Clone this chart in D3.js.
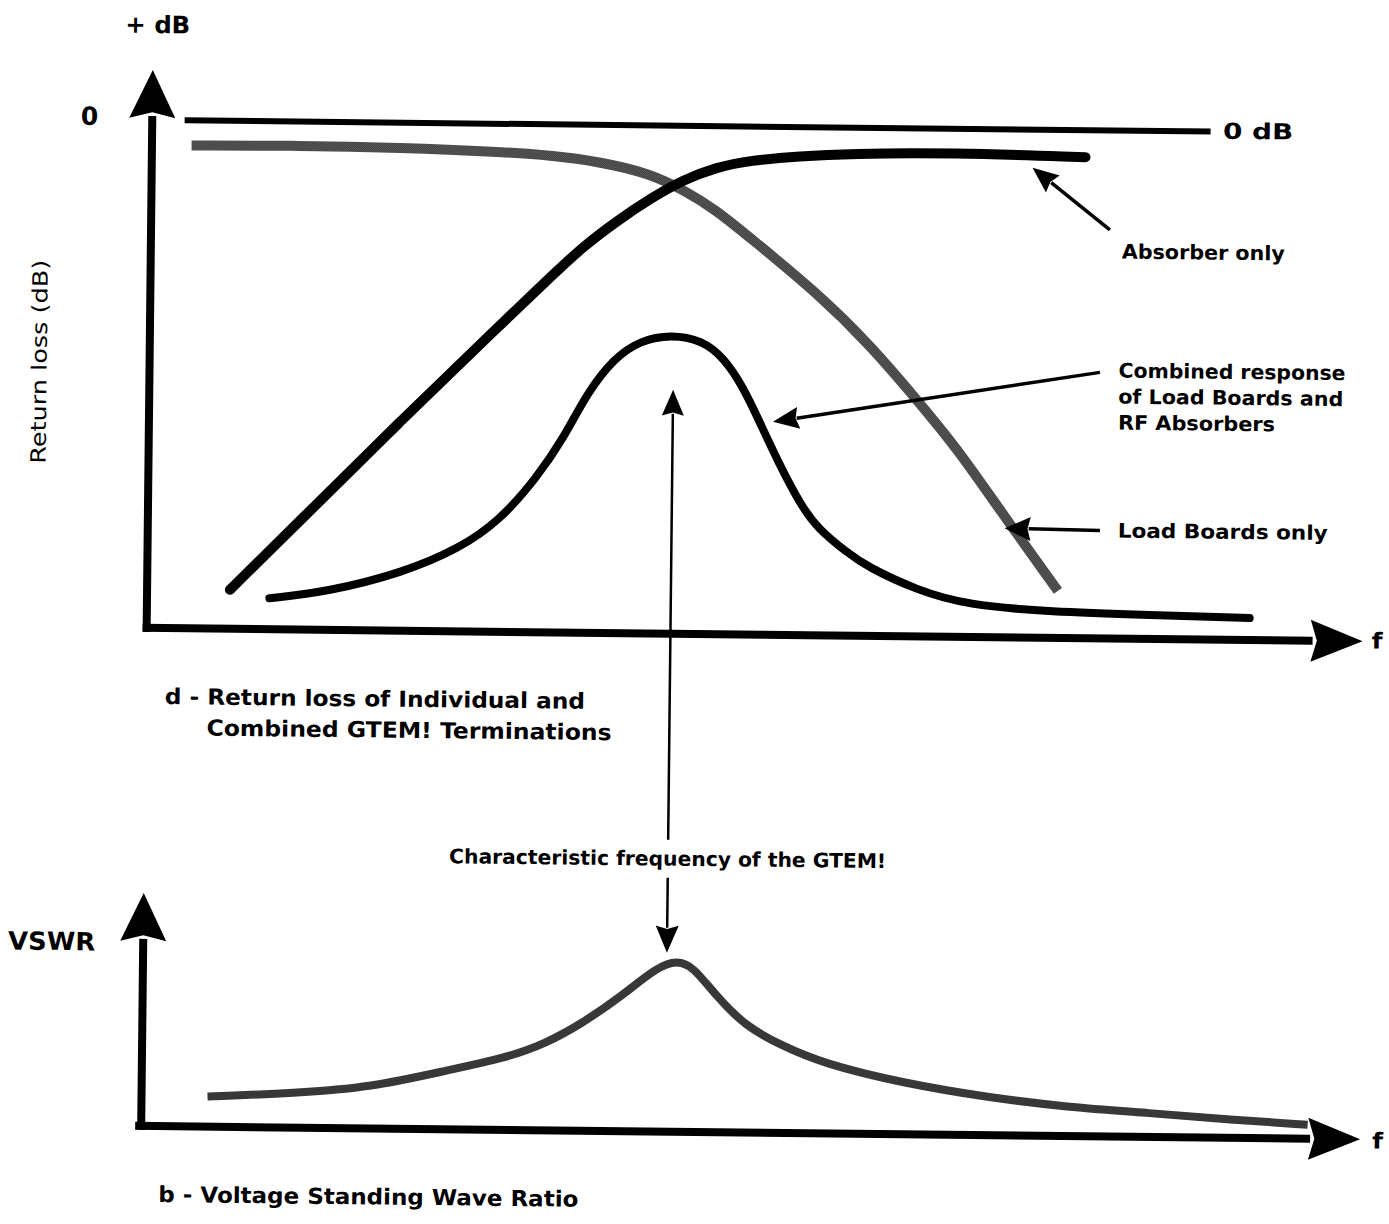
<!DOCTYPE html>
<html lang="en">
<head>
  <meta charset="UTF-8">
  <title>Return loss and VSWR of GTEM terminations</title>
  <script src="https://d3js.org/d3.v7.min.js"></script>
  <style>
    body { margin: 0; background: #fff; }
    text { font-family: "DejaVu Sans", "Liberation Sans", Arial, sans-serif; font-weight: bold; fill: #000; }
  </style>
</head>
<body>
<div id="chart"></div>
<script>
  // ---- data (frequency in arbitrary units 0..100) ----
  // top panel: return loss, dB (0 at the top line)
  const absorberF  = [6.9, 12.7, 20.9, 29.2, 33.3, 36.0, 38.8, 41.6, 44.3, 47.1, 49.8, 54.0, 58.2, 66.5, 77.8];
  const absorberDb = [-46.9, -39.9, -29.9, -20.1, -15.3, -12.2, -9.6, -7.3, -5.4, -4.1, -3.4, -2.9, -2.6, -2.4, -2.7];

  const loadF  = [3.3, 12.3, 20.7, 29.0, 33.2, 37.4, 41.5, 44.3, 47.1, 49.9, 55.6, 60.0, 63.8, 67.4, 71.0, 75.9];
  const loadDb = [-2.5, -2.4, -2.5, -2.8, -3.1, -3.7, -4.8, -6.4, -8.4, -11.1, -16.6, -21.7, -26.9, -32.0, -38.1, -46.1];

  const combinedF  = [10.2, 15.0, 21.3, 26.0, 29.3, 32.4, 34.6, 36.5, 38.7, 40.9, 43.4, 46.0, 47.9, 49.5, 50.8, 52.5, 54.4, 55.8, 58.3, 60.0, 64.2, 68.3, 75.3, 83.6, 91.9];
  const combinedDb = [-47.7, -47.0, -45.0, -42.5, -39.7, -35.3, -31.3, -26.8, -23.3, -21.5, -20.9, -21.4, -23.2, -26.1, -29.3, -33.6, -37.8, -40.1, -42.5, -43.9, -46.2, -47.6, -48.2, -48.4, -48.6];

  const zeroLineF = [2.7, 88.2];
  const topTicks = [0];
  const topTickLabels = ["0"];

  // bottom panel: VSWR (relative units)
  const vswrF   = [5.5, 12.8, 19.1, 25.5, 30.3, 33.5, 36.6, 39.8, 42.9, 44.5, 45.8, 47.8, 50.3, 53.2, 56.7, 63.5, 70.4, 77.1, 84.0, 90.8, 97.2];
  const vswrVal = [3.0, 3.45, 4.1, 5.9, 7.2, 8.6, 10.7, 13.4, 16.5, 17.1, 16.6, 13.6, 10.6, 8.8, 7.0, 5.1, 3.8, 2.9, 2.4, 1.8, 1.4];

  const charFreq = 43.65;

  // ---- layout ----
  const W = 1389, H = 1224;
  const svg = d3.select("#chart").append("svg")
    .attr("width", W).attr("height", H);
  svg.append("rect").attr("width", W).attr("height", H).attr("fill", "#fff");

  const defs = svg.append("defs");
  // halftone look of the grey curves
  function dither(id, c1, c2) {
    const p = defs.append("pattern").attr("id", id).attr("patternUnits", "userSpaceOnUse")
      .attr("width", 2).attr("height", 2).attr("patternTransform", "rotate(-0.63)");
    p.append("rect").attr("width", 2).attr("height", 2).attr("fill", c2);
    p.append("rect").attr("width", 1).attr("height", 1).attr("fill", c1);
    p.append("rect").attr("x", 1).attr("y", 1).attr("width", 1).attr("height", 1).attr("fill", c1);
  }
  dither("dither", "#000", "#9a9a9a");
  dither("dither2", "#000", "#707070");

  // the scan is tilted slightly
  const g = svg.append("g").attr("transform", "rotate(0.63,700,600)");

  const x = d3.scaleLinear().domain([0, 100]).range([147, 1347]);
  const yTop = d3.scaleLinear().domain([-50.8, 0]).range([634, 126]);
  const yBot = d3.scaleLinear().domain([0, 23.3]).range([1132, 899]);

  function arrow(x1, y1, x2, y2, len, wid, sw) {
    const a = Math.atan2(y2 - y1, x2 - x1);
    const bx = x2 - len * Math.cos(a), by = y2 - len * Math.sin(a);
    const nx = -Math.sin(a) * wid / 2, ny = Math.cos(a) * wid / 2;
    g.append("line").attr("x1", x1).attr("y1", y1)
      .attr("x2", bx + 2 * Math.cos(a)).attr("y2", by + 2 * Math.sin(a))
      .attr("stroke", "#000").attr("stroke-width", sw);
    g.append("path")
      .attr("d", `M${x2},${y2}L${bx + nx},${by + ny}L${bx + len * 0.12 * Math.cos(a)},${by + len * 0.12 * Math.sin(a)}L${bx - nx},${by - ny}Z`)
      .attr("fill", "#000");
  }

  function label(tx, ty, size, width, str) {
    return g.append("text").attr("x", tx).attr("y", ty).attr("font-size", size)
      .attr("textLength", width).attr("lengthAdjust", "spacingAndGlyphs").text(str);
  }

  // ---- top panel ----
  // axes with arrowheads
  arrow(x(0), 638, x(0), 76, 48, 46, 8);
  arrow(143, yTop(-50.8), 1363, yTop(-50.8), 52, 42, 8);

  g.append("g")
    .attr("transform", `translate(${x(0)},0)`)
    .call(d3.axisLeft(yTop).tickValues(topTicks).tickFormat((d, i) => topTickLabels[i]).tickSize(0).tickPadding(54))
    .call(a => a.select(".domain").remove())
    .selectAll("text")
    .attr("font-size", 25).attr("dy", "0.2em")
    .style("font-family", "'DejaVu Sans', Arial, sans-serif").style("font-weight", "bold");

  const lineTop = d3.line().x(d => x(d[0])).y(d => yTop(d[1])).curve(d3.curveBasis);

  g.append("path").datum(zeroLineF.map(f => [f, 0]))
    .attr("d", d3.line().x(d => x(d[0])).y(d => yTop(d[1])))
    .attr("stroke", "#000").attr("stroke-width", 6).attr("fill", "none");

  g.append("path").datum(loadF.map((f, i) => [f, loadDb[i]]))
    .attr("d", lineTop).attr("fill", "none")
    .attr("stroke", "url(#dither)").attr("stroke-width", 10);

  g.append("path").datum(absorberF.map((f, i) => [f, absorberDb[i]]))
    .attr("d", lineTop).attr("fill", "none")
    .attr("stroke", "#000").attr("stroke-width", 10).attr("stroke-linecap", "round");

  g.append("path").datum(combinedF.map((f, i) => [f, combinedDb[i]]))
    .attr("d", lineTop).attr("fill", "none")
    .attr("stroke", "#000").attr("stroke-width", 8).attr("stroke-linecap", "round");

  // annotation arrows
  arrow(x(79.9), yTop(-9.95), x(73.4), yTop(-3.8), 26, 22, 3.5);
  arrow(x(79.2), yTop(-24.2), x(52.0), yTop(-29.5), 26, 22, 3.5);
  arrow(x(79.35), yTop(-40.0), x(71.4), yTop(-39.9), 26, 24, 3.5);
  arrow(x(charFreq), 840, x(charFreq), yTop(-26.4), 26, 22, 2.5);
  arrow(x(charFreq), 878, x(charFreq), yBot(17.9), 27, 23, 2.5);

  // labels
  label(119, 39, 24, 65, "+ dB");
  label(1218, 133, 22, 70, "0 dB");
  g.append("text").attr("transform", "translate(44,369) rotate(-90)")
    .attr("text-anchor", "middle").attr("font-size", 21).attr("textLength", 204)
    .attr("lengthAdjust", "spacingAndGlyphs").style("font-weight", "normal").text("Return loss (dB)");
  label(1118, 254, 20, 163, "Absorber only");
  [["Combined response", 227], ["of Load Boards and", 225], ["RF Absorbers", 157]].forEach((t, i) => {
    label(1116, 373 + i * 26, 20, t[1], t[0]);
  });
  label(1117, 533, 20, 210, "Load Boards only");
  label(1372, 641, 22, 11, "f");

  label(166, 710, 22, 420, "d - Return loss of Individual and");
  label(208, 741, 22, 405, "Combined GTEM! Terminations");

  label(452, 866, 20, 437, "Characteristic frequency of the GTEM!");

  // ---- bottom panel ----
  arrow(x(0), 1136, x(0), 899, 48, 46, 8);
  arrow(141, yBot(0), 1366, yBot(0), 52, 42, 8);

  g.append("path").datum(vswrF.map((f, i) => [f, vswrVal[i]]))
    .attr("d", d3.line().x(d => x(d[0])).y(d => yBot(d[1])).curve(d3.curveBasis))
    .attr("fill", "none").attr("stroke", "url(#dither2)").attr("stroke-width", 8);

  label(12, 957, 25, 87, "VSWR");
  label(1378, 1141, 22, 11, "f");
  label(165, 1208, 22, 420, "b - Voltage Standing Wave Ratio");
</script>
</body>
</html>
